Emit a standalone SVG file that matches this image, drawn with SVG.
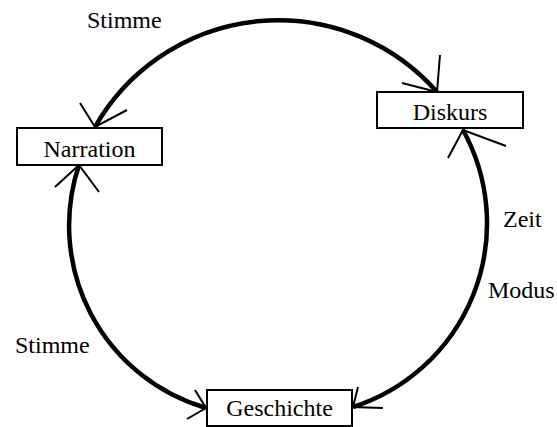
<svg xmlns="http://www.w3.org/2000/svg" width="557" height="427" viewBox="0 0 557 427">
<style>
.box{fill:#fff;stroke:#000;stroke-width:2}
.lbl{font-family:"Liberation Serif","Times New Roman",serif;font-size:24px;fill:#000}
.arc{fill:none;stroke:#000;stroke-width:4.5}
.head{fill:none;stroke:#000;stroke-width:2;stroke-linecap:butt;stroke-linejoin:miter}
</style>
<rect width="557" height="427" fill="#fff"/>
<g id="connectors">
<path class="arc" d="M95,127 A211,211 0 0 1 437,92"/>
<polyline class="head" points="80,103 95,127 127,110"/>
<polyline class="head" points="440,55 437,92 402,83"/>
<path class="arc" d="M463,130 A193,193 0 0 1 353,407"/>
<polyline class="head" points="448,158 463,130 506,146"/>
<polyline class="head" points="358,387 353,407 383,408"/>
<path class="arc" d="M206,408 A190,190 0 0 1 79,165"/>
<polyline class="head" points="195,390 206,408 187,419"/>
<polyline class="head" points="55,187 79,165 99,192"/>
</g>
<g id="labels">
<text class="lbl" x="87" y="28">Stimme</text>
<text class="lbl" x="503" y="227">Zeit</text>
<text class="lbl" x="488" y="298">Modus</text>
<text class="lbl" x="15" y="353">Stimme</text>
</g>
<g id="narration">
<rect class="box" x="17" y="128" width="145" height="37"/>
<text class="lbl" x="89.5" y="157" text-anchor="middle">Narration</text>
</g>
<g id="diskurs">
<rect class="box" x="377" y="92" width="146" height="36"/>
<text class="lbl" x="450" y="120" text-anchor="middle">Diskurs</text>
</g>
<g id="geschichte">
<rect class="box" x="207" y="390" width="145" height="36"/>
<text class="lbl" x="279.5" y="416" text-anchor="middle">Geschichte</text>
</g>
</svg>
